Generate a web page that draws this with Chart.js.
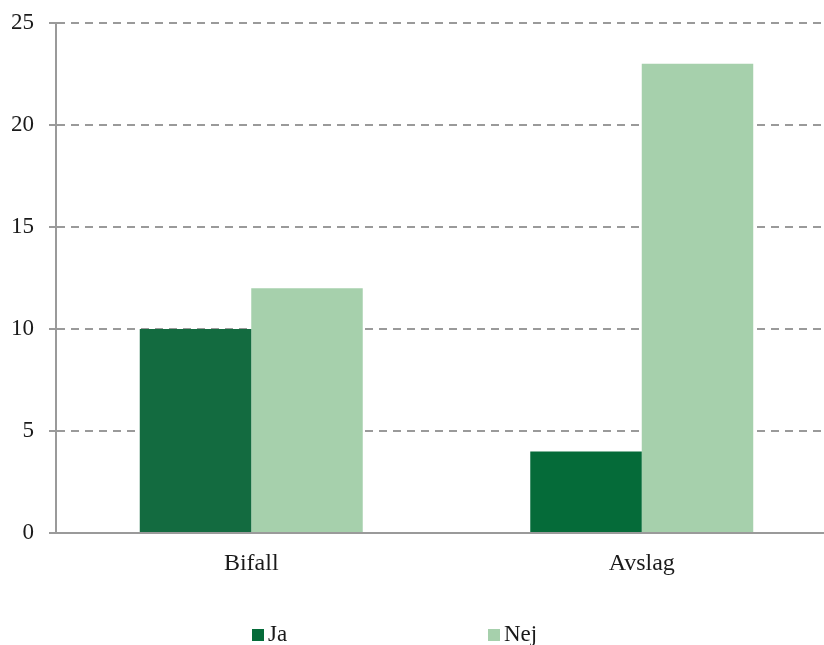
<!DOCTYPE html>
<html><head><meta charset="utf-8">
<script src="https://cdn.jsdelivr.net/npm/chart.js@4/dist/chart.umd.min.js"></script>
<style>
html,body{margin:0;padding:0;overflow:hidden;background:#fff;width:824px;height:645px}
#wrap{position:relative;width:840px;height:645px}
</style></head>
<body><div id="wrap"><canvas id="c"></canvas></div>
<script>
const categories = ['Bifall', 'Avslag'];
const seriesNames = ['Ja', 'Nej'];
const jaValues = [10, 4];
const nejValues = [12, 23];
const yTicks = [0, 5, 10, 15, 20, 25];

const jaColors = ['#136B40', '#056B39'];
const nejColor = '#A6D0AC';
const legendColors = ['#056B39', '#A6D0AC'];
const gridColor = '#9a9a9a';
const textColor = '#1a1a1a';
const FONT = '"Liberation Serif", "Times New Roman", serif';

const legendPlugin = {
  id: 'customLegend',
  afterDraw(chart) {
    const ctx = chart.ctx;
    const xs = [252, 488];
    ctx.save();
    ctx.font = '23px ' + FONT;
    ctx.textBaseline = 'alphabetic';
    ctx.textAlign = 'left';
    chart.data.datasets.forEach((ds, i) => {
      const x = xs[i];
      ctx.fillStyle = legendColors[i];
      ctx.fillRect(x, 629, 12, 12);
      ctx.fillStyle = textColor;
      ctx.fillText(ds.label, x + 16, 641);
    });
    ctx.restore();
  }
};

new Chart(document.getElementById('c'), {
  type: 'bar',
  data: {
    labels: categories,
    datasets: [
      { label: seriesNames[0], data: jaValues, backgroundColor: jaColors, borderWidth: 0,
        categoryPercentage: 0.571, barPercentage: 1 },
      { label: seriesNames[1], data: nejValues, backgroundColor: nejColor, borderWidth: 0,
        categoryPercentage: 0.571, barPercentage: 1 }
    ]
  },
  options: {
    responsive: true,
    maintainAspectRatio: false,
    animation: false,
    layout: { padding: { top: 23, left: 0, right: 3, bottom: 62 } },
    plugins: {
      legend: { display: false },
      tooltip: { enabled: false }
    },
    scales: {
      x: {
        grid: { display: false, drawTicks: false },
        border: { display: true, color: gridColor, width: 2 },
        ticks: { color: textColor, font: { family: FONT, size: 24 }, padding: 16 },
        afterFit(s) { s.height = 50; s.paddingLeft = 0; s.paddingRight = 0; }
      },
      y: {
        min: 0, max: 25,
        afterBuildTicks(s) { s.ticks = yTicks.map(v => ({ value: v })); },
        grid: { color: gridColor, lineWidth: 2, tickLength: 7, tickColor: gridColor, tickBorderDash: [] },
        border: { display: true, color: gridColor, width: 2, dash: [8, 6] },
        ticks: { color: textColor, font: { family: FONT, size: 23 }, padding: 15 },
        afterFit(s) { s.width = 56; s.paddingTop = 0; s.paddingBottom = 0; }
      }
    }
  },
  plugins: [legendPlugin]
});
</script>
</body></html>
